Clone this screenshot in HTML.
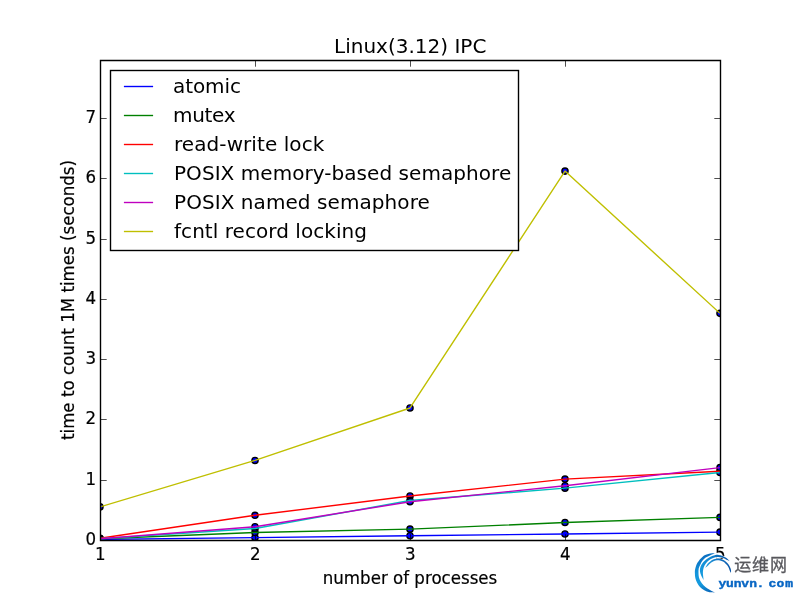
<!DOCTYPE html>
<html lang="en">
<head>
<meta charset="utf-8">
<title>Linux(3.12) IPC</title>
<style>
html,body{margin:0;padding:0;background:#fff;}
body{width:800px;height:600px;overflow:hidden;}
svg{display:block;}
text{font-family:"DejaVu Sans", "Liberation Sans", sans-serif;fill:#000;}
.t12{font-size:16.667px;stroke:#000;stroke-width:0.18px;}
.t14{font-size:20px;}
</style>
</head>
<body>
<svg width="800" height="600" viewBox="0 0 800 600">
<rect x="0" y="0" width="800" height="600" fill="#ffffff"/>

<clipPath id="ax"><rect x="100" y="60" width="620" height="480"/></clipPath>
<g clip-path="url(#ax)">
<g fill="#0000ff" stroke="#000000" stroke-width="1.389">
<circle cx="100.00" cy="539.40" r="3.106"/>
<circle cx="255.00" cy="537.59" r="3.106"/>
<circle cx="410.00" cy="535.78" r="3.106"/>
<circle cx="565.00" cy="533.97" r="3.106"/>
<circle cx="720.00" cy="532.16" r="3.106"/>
<circle cx="100.00" cy="538.79" r="3.106"/>
<circle cx="255.00" cy="532.47" r="3.106"/>
<circle cx="410.00" cy="529.15" r="3.106"/>
<circle cx="565.00" cy="522.52" r="3.106"/>
<circle cx="720.00" cy="517.39" r="3.106"/>
<circle cx="100.00" cy="538.19" r="3.106"/>
<circle cx="255.00" cy="515.29" r="3.106"/>
<circle cx="410.00" cy="496.00" r="3.106"/>
<circle cx="565.00" cy="479.12" r="3.106"/>
<circle cx="720.00" cy="471.28" r="3.106"/>
<circle cx="100.00" cy="538.79" r="3.106"/>
<circle cx="255.00" cy="528.55" r="3.106"/>
<circle cx="410.00" cy="500.52" r="3.106"/>
<circle cx="565.00" cy="488.16" r="3.106"/>
<circle cx="720.00" cy="472.49" r="3.106"/>
<circle cx="100.00" cy="538.79" r="3.106"/>
<circle cx="255.00" cy="526.74" r="3.106"/>
<circle cx="410.00" cy="501.72" r="3.106"/>
<circle cx="565.00" cy="485.75" r="3.106"/>
<circle cx="720.00" cy="467.66" r="3.106"/>
<circle cx="100.00" cy="506.85" r="3.106"/>
<circle cx="255.00" cy="460.43" r="3.106"/>
<circle cx="410.00" cy="407.99" r="3.106"/>
<circle cx="565.00" cy="171.09" r="3.106"/>
<circle cx="720.00" cy="313.35" r="3.106"/>
</g>
<g fill="none" stroke-width="1.389" stroke-linejoin="round" stroke-linecap="butt">
<polyline points="100.00,539.40 255.00,537.59 410.00,535.78 565.00,533.97 720.00,532.16" stroke="#0000ff"/>
<polyline points="100.00,538.79 255.00,532.47 410.00,529.15 565.00,522.52 720.00,517.39" stroke="#008000"/>
<polyline points="100.00,538.19 255.00,515.29 410.00,496.00 565.00,479.12 720.00,471.28" stroke="#ff0000"/>
<polyline points="100.00,538.79 255.00,528.55 410.00,500.52 565.00,488.16 720.00,472.49" stroke="#00bfbf"/>
<polyline points="100.00,538.79 255.00,526.74 410.00,501.72 565.00,485.75 720.00,467.66" stroke="#bf00bf"/>
<polyline points="100.00,506.85 255.00,460.43 410.00,407.99 565.00,171.09 720.00,313.35" stroke="#bfbf00"/>
</g>
</g>
<g fill="none" stroke="#000" stroke-width="1.389" stroke-linecap="square">
<path d="M100.5 540.5 V60.5 M720.5 540.5 V60.5 M100.5 540.5 H720.5 M100.5 60.5 H720.5"/>
</g>
<g fill="none" stroke="#000" stroke-width="0.694">
<path d="M100.5 540.50 v-6.20 M100.5 60.50 v6.20 M255.5 540.50 v-6.20 M255.5 60.50 v6.20 M410.5 540.50 v-6.20 M410.5 60.50 v6.20 M565.5 540.50 v-6.20 M565.5 60.50 v6.20 M720.5 540.50 v-6.20 M720.5 60.50 v6.20 M100.50 540.5 h6.20 M720.50 540.5 h-6.20 M100.50 480.5 h6.20 M720.50 480.5 h-6.20 M100.50 419.5 h6.20 M720.50 419.5 h-6.20 M100.50 359.5 h6.20 M720.50 359.5 h-6.20 M100.50 299.5 h6.20 M720.50 299.5 h-6.20 M100.50 239.5 h6.20 M720.50 239.5 h-6.20 M100.50 178.5 h6.20 M720.50 178.5 h-6.20 M100.50 118.5 h6.20 M720.50 118.5 h-6.20"/>
</g>
<text class="t12" transform="translate(100.20 560.20) scale(1 1.08)" text-anchor="middle">1</text>
<text class="t12" transform="translate(255.20 560.20) scale(1 1.08)" text-anchor="middle">2</text>
<text class="t12" transform="translate(410.20 560.20) scale(1 1.08)" text-anchor="middle">3</text>
<text class="t12" transform="translate(565.20 560.20) scale(1 1.08)" text-anchor="middle">4</text>
<text class="t12" transform="translate(720.20 560.20) scale(1 1.08)" text-anchor="middle">5</text>
<text class="t12" transform="translate(96.00 545.00) scale(1 1.08)" text-anchor="end">0</text>
<text class="t12" transform="translate(96.00 485.00) scale(1 1.08)" text-anchor="end">1</text>
<text class="t12" transform="translate(96.00 424.00) scale(1 1.08)" text-anchor="end">2</text>
<text class="t12" transform="translate(96.00 364.00) scale(1 1.08)" text-anchor="end">3</text>
<text class="t12" transform="translate(96.00 304.00) scale(1 1.08)" text-anchor="end">4</text>
<text class="t12" transform="translate(96.00 244.00) scale(1 1.08)" text-anchor="end">5</text>
<text class="t12" transform="translate(96.00 183.00) scale(1 1.08)" text-anchor="end">6</text>
<text class="t12" transform="translate(96.00 123.00) scale(1 1.08)" text-anchor="end">7</text>
<text class="t12" transform="translate(410.00 584.00) scale(1 1.08)" text-anchor="middle">number of processes</text>
<text class="t12" transform="translate(74.10 300.00) rotate(-90) scale(1 1.08)" text-anchor="middle">time to count 1M times (seconds)</text>
<text class="t14" transform="translate(410.20 53.06)" text-anchor="middle">Linux(3.12) IPC</text>
<rect x="110.5" y="70.5" width="408" height="180" fill="#fff" stroke="#000" stroke-width="1.389"/>
<path d="M123.9 86.5 H153.1" stroke="#0000ff" stroke-width="1.389" fill="none"/>
<text class="t14" transform="translate(173.00 93.00)" text-anchor="start" textLength="67.9" lengthAdjust="spacing">atomic</text>
<path d="M123.9 115.5 H153.1" stroke="#008000" stroke-width="1.389" fill="none"/>
<text class="t14" transform="translate(173.00 122.00)" text-anchor="start" textLength="62.6" lengthAdjust="spacing">mutex</text>
<path d="M123.9 144.5 H153.1" stroke="#ff0000" stroke-width="1.389" fill="none"/>
<text class="t14" transform="translate(174.00 151.00)" text-anchor="start" textLength="150.3" lengthAdjust="spacing">read-write lock</text>
<path d="M123.9 173.5 H153.1" stroke="#00bfbf" stroke-width="1.389" fill="none"/>
<text class="t14" transform="translate(174.00 180.00)" text-anchor="start" textLength="337.2" lengthAdjust="spacing">POSIX memory-based semaphore</text>
<path d="M123.9 202.5 H153.1" stroke="#bf00bf" stroke-width="1.389" fill="none"/>
<text class="t14" transform="translate(174.00 209.00)" text-anchor="start" textLength="255.8" lengthAdjust="spacing">POSIX named semaphore</text>
<path d="M123.9 231.5 H153.1" stroke="#bfbf00" stroke-width="1.389" fill="none"/>
<text class="t14" transform="translate(174.00 238.00)" text-anchor="start" textLength="193.0" lengthAdjust="spacing">fcntl record locking</text>
<defs>
<linearGradient id="g1" gradientUnits="userSpaceOnUse" x1="700" y1="553" x2="712" y2="594"><stop offset="0" stop-color="#0868bc"/><stop offset="0.2" stop-color="#0c7aca"/><stop offset="0.45" stop-color="#1496dc"/><stop offset="0.7" stop-color="#149ade"/><stop offset="1" stop-color="#085cb2"/></linearGradient>
<linearGradient id="g2" gradientUnits="userSpaceOnUse" x1="700" y1="575" x2="729" y2="559"><stop offset="0" stop-color="#169cdf"/><stop offset="0.5" stop-color="#1288d2"/><stop offset="1" stop-color="#0a55a8"/></linearGradient>
<linearGradient id="g3" gradientUnits="userSpaceOnUse" x1="705" y1="566" x2="731" y2="568"><stop offset="0" stop-color="#2aa4e0"/><stop offset="0.45" stop-color="#1277c6"/><stop offset="1" stop-color="#0a55a8"/></linearGradient>
</defs>
<path fill="#fff" stroke="#fff" stroke-width="0.8" stroke-linejoin="round" d="M715.80 553.10 C714.53 553.27 710.43 553.47 708.20 554.10 C705.97 554.73 704.17 555.48 702.40 556.90 C700.63 558.32 698.80 560.58 697.60 562.60 C696.40 564.62 695.65 567.18 695.20 569.00 C694.75 570.82 694.87 571.95 694.90 573.50 C694.93 575.05 695.03 576.75 695.40 578.30 C695.77 579.85 696.33 581.37 697.10 582.80 C697.87 584.23 698.80 585.67 700.00 586.90 C701.20 588.13 702.70 589.30 704.30 590.20 C705.90 591.10 707.75 591.88 709.60 592.30 C711.45 592.72 714.43 592.63 715.40 592.70 C714.78 592.42 713.02 591.68 711.70 591.00 C710.38 590.32 708.87 589.55 707.50 588.60 C706.13 587.65 704.67 586.52 703.50 585.30 C702.33 584.08 701.27 582.65 700.50 581.30 C699.73 579.95 699.23 578.58 698.90 577.20 C698.57 575.82 698.53 574.45 698.50 573.00 C698.47 571.55 698.38 569.93 698.70 568.50 C699.02 567.07 699.75 565.72 700.40 564.40 C701.05 563.08 701.72 561.73 702.60 560.60 C703.48 559.47 704.40 558.50 705.70 557.60 C707.00 556.70 708.72 555.95 710.40 555.20 C712.08 554.45 714.90 553.45 715.80 553.10 Z M703.60 580.00 C703.20 579.25 701.82 577.00 701.20 575.50 C700.58 574.00 700.00 572.50 699.90 571.00 C699.80 569.50 700.08 567.90 700.60 566.50 C701.12 565.10 701.90 563.88 703.00 562.60 C704.10 561.32 705.87 559.82 707.20 558.80 C708.53 557.78 709.73 557.10 711.00 556.50 C712.27 555.90 713.55 555.47 714.80 555.20 C716.05 554.93 717.30 554.82 718.50 554.90 C719.70 554.98 720.73 555.22 722.00 555.70 C723.27 556.18 724.85 556.93 726.10 557.80 C727.35 558.67 728.93 560.38 729.50 560.90 C728.92 560.65 727.32 559.95 726.00 559.40 C724.68 558.85 722.85 558.00 721.60 557.60 C720.35 557.20 719.53 557.05 718.50 557.00 C717.47 556.95 716.48 557.07 715.40 557.30 C714.32 557.53 713.07 557.90 712.00 558.40 C710.93 558.90 709.97 559.53 709.00 560.30 C708.03 561.07 706.98 562.05 706.20 563.00 C705.42 563.95 704.80 564.92 704.30 566.00 C703.80 567.08 703.43 568.33 703.20 569.50 C702.97 570.67 702.90 571.83 702.90 573.00 C702.90 574.17 703.08 575.33 703.20 576.50 C703.32 577.67 703.53 579.42 703.60 580.00 Z M705.30 567.80 C705.68 567.13 706.78 564.87 707.60 563.80 C708.42 562.73 709.27 562.10 710.20 561.40 C711.13 560.70 712.15 560.05 713.20 559.60 C714.25 559.15 715.37 558.83 716.50 558.70 C717.63 558.57 718.83 558.57 720.00 558.80 C721.17 559.03 722.42 559.53 723.50 560.10 C724.58 560.67 725.60 561.38 726.50 562.20 C727.40 563.02 728.22 563.95 728.90 565.00 C729.58 566.05 730.23 567.47 730.60 568.50 C730.97 569.53 731.08 570.48 731.10 571.20 C731.12 571.92 730.77 572.53 730.70 572.80 C730.55 572.47 730.12 571.60 729.80 570.80 C729.48 570.00 729.20 568.87 728.80 568.00 C728.40 567.13 727.97 566.37 727.40 565.60 C726.83 564.83 726.13 564.07 725.40 563.40 C724.67 562.73 723.90 562.10 723.00 561.60 C722.10 561.10 721.00 560.63 720.00 560.40 C719.00 560.17 718.00 560.12 717.00 560.20 C716.00 560.28 714.95 560.53 714.00 560.90 C713.05 561.27 712.13 561.82 711.30 562.40 C710.47 562.98 709.72 563.70 709.00 564.40 C708.28 565.10 707.62 566.03 707.00 566.60 C706.38 567.17 705.58 567.60 705.30 567.80 Z"/>
<path fill="url(#g1)" d="M715.80 553.10 C714.53 553.27 710.43 553.47 708.20 554.10 C705.97 554.73 704.17 555.48 702.40 556.90 C700.63 558.32 698.80 560.58 697.60 562.60 C696.40 564.62 695.65 567.18 695.20 569.00 C694.75 570.82 694.87 571.95 694.90 573.50 C694.93 575.05 695.03 576.75 695.40 578.30 C695.77 579.85 696.33 581.37 697.10 582.80 C697.87 584.23 698.80 585.67 700.00 586.90 C701.20 588.13 702.70 589.30 704.30 590.20 C705.90 591.10 707.75 591.88 709.60 592.30 C711.45 592.72 714.43 592.63 715.40 592.70 C714.78 592.42 713.02 591.68 711.70 591.00 C710.38 590.32 708.87 589.55 707.50 588.60 C706.13 587.65 704.67 586.52 703.50 585.30 C702.33 584.08 701.27 582.65 700.50 581.30 C699.73 579.95 699.23 578.58 698.90 577.20 C698.57 575.82 698.53 574.45 698.50 573.00 C698.47 571.55 698.38 569.93 698.70 568.50 C699.02 567.07 699.75 565.72 700.40 564.40 C701.05 563.08 701.72 561.73 702.60 560.60 C703.48 559.47 704.40 558.50 705.70 557.60 C707.00 556.70 708.72 555.95 710.40 555.20 C712.08 554.45 714.90 553.45 715.80 553.10 Z"/>
<path fill="url(#g2)" d="M703.60 580.00 C703.20 579.25 701.82 577.00 701.20 575.50 C700.58 574.00 700.00 572.50 699.90 571.00 C699.80 569.50 700.08 567.90 700.60 566.50 C701.12 565.10 701.90 563.88 703.00 562.60 C704.10 561.32 705.87 559.82 707.20 558.80 C708.53 557.78 709.73 557.10 711.00 556.50 C712.27 555.90 713.55 555.47 714.80 555.20 C716.05 554.93 717.30 554.82 718.50 554.90 C719.70 554.98 720.73 555.22 722.00 555.70 C723.27 556.18 724.85 556.93 726.10 557.80 C727.35 558.67 728.93 560.38 729.50 560.90 C728.92 560.65 727.32 559.95 726.00 559.40 C724.68 558.85 722.85 558.00 721.60 557.60 C720.35 557.20 719.53 557.05 718.50 557.00 C717.47 556.95 716.48 557.07 715.40 557.30 C714.32 557.53 713.07 557.90 712.00 558.40 C710.93 558.90 709.97 559.53 709.00 560.30 C708.03 561.07 706.98 562.05 706.20 563.00 C705.42 563.95 704.80 564.92 704.30 566.00 C703.80 567.08 703.43 568.33 703.20 569.50 C702.97 570.67 702.90 571.83 702.90 573.00 C702.90 574.17 703.08 575.33 703.20 576.50 C703.32 577.67 703.53 579.42 703.60 580.00 Z"/>
<path fill="url(#g3)" d="M705.30 567.80 C705.68 567.13 706.78 564.87 707.60 563.80 C708.42 562.73 709.27 562.10 710.20 561.40 C711.13 560.70 712.15 560.05 713.20 559.60 C714.25 559.15 715.37 558.83 716.50 558.70 C717.63 558.57 718.83 558.57 720.00 558.80 C721.17 559.03 722.42 559.53 723.50 560.10 C724.58 560.67 725.60 561.38 726.50 562.20 C727.40 563.02 728.22 563.95 728.90 565.00 C729.58 566.05 730.23 567.47 730.60 568.50 C730.97 569.53 731.08 570.48 731.10 571.20 C731.12 571.92 730.77 572.53 730.70 572.80 C730.55 572.47 730.12 571.60 729.80 570.80 C729.48 570.00 729.20 568.87 728.80 568.00 C728.40 567.13 727.97 566.37 727.40 565.60 C726.83 564.83 726.13 564.07 725.40 563.40 C724.67 562.73 723.90 562.10 723.00 561.60 C722.10 561.10 721.00 560.63 720.00 560.40 C719.00 560.17 718.00 560.12 717.00 560.20 C716.00 560.28 714.95 560.53 714.00 560.90 C713.05 561.27 712.13 561.82 711.30 562.40 C710.47 562.98 709.72 563.70 709.00 564.40 C708.28 565.10 707.62 566.03 707.00 566.60 C706.38 567.17 705.58 567.60 705.30 567.80 Z"/>
<text x="734.3" y="571.0" style="font-family:'Liberation Sans','Noto Sans CJK SC',sans-serif;font-size:17px;fill:#58585d;stroke:#58585d;stroke-width:0.3px;letter-spacing:0.8px">运维网</text>
<text transform="translate(0 586.6) scale(1.12 1)" x="641.43 648.22 655.09 661.88 668.89 675.49 680.45 686.07 693.26 701.16" style="font-family:'Liberation Mono',monospace;font-weight:bold;font-size:11.6px;fill:#0866c4;stroke:#0866c4;stroke-width:0.4px">yunvn. com</text>
</svg>
</body>
</html>
